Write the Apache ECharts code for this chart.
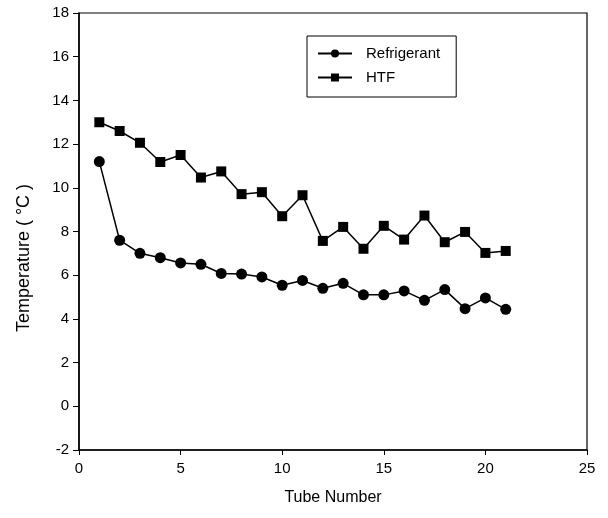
<!DOCTYPE html>
<html>
<head>
<meta charset="utf-8">
<script src="https://cdn.jsdelivr.net/npm/echarts@6/dist/echarts.min.js"></script>
<style>html,body{margin:0;padding:0;background:#fff;}#c{width:608px;height:518px;}</style>
</head>
<body>
<div id="c"></div>
<script>
const tubes = [1,2,3,4,5,6,7,8,9,10,11,12,13,14,15,16,17,18,19,20,21];
const refrigerant = [11.2,7.6,7.0,6.8,6.56,6.5,6.08,6.05,5.92,5.54,5.76,5.4,5.63,5.1,5.1,5.28,4.85,5.34,4.47,4.96,4.44];
const htf = [13.0,12.6,12.06,11.18,11.5,10.47,10.75,9.71,9.8,8.7,9.66,7.57,8.21,7.21,8.26,7.63,8.73,7.51,7.98,7.02,7.11];
const seriesNames = ['Refrigerant','HTF'];
const xTitle = 'Tube Number';
const yTitle = 'Temperature ( °C )';

const font = 'Liberation Sans, Arial, sans-serif';
const chart = echarts.init(document.getElementById('c'), null, {renderer:'canvas'});
const pair = (ys) => tubes.map((x,i)=>[x, ys[i]]);
chart.setOption({
  backgroundColor:'#fff',
  animation:false,
  textStyle:{fontFamily:font, color:'#000'},
  grid:{left:79, right:21, top:13, bottom:68, show:true, borderColor:'#000', borderWidth:1.2, backgroundColor:'transparent'},
  legend:{
    orient:'vertical', left:307, top:36,
    data:seriesNames,
    itemWidth:34, itemHeight:10, itemGap:9,
    padding:[10,16,12,10],
    borderColor:'#000', borderWidth:1,
    textStyle:{fontFamily:font, fontSize:15, color:'#000', padding:[0,0,0,9]}
  },
  graphic:[{
    type:'text', x:15, y:258, rotation:Math.PI/2,
    style:{text:yTitle, fontFamily:font, fontSize:18, fill:'#000', align:'center', verticalAlign:'top'}
  }],
  xAxis:{
    type:'value', min:0, max:25, interval:5,
    name:xTitle, nameLocation:'middle', nameGap:40,
    nameTextStyle:{fontFamily:font, fontSize:16, color:'#000'},
    axisLine:{show:true, onZero:false, lineStyle:{color:'#000', width:1.5}},
    axisTick:{show:true, inside:false, length:5, lineStyle:{color:'#000'}},
    axisLabel:{fontFamily:font, fontSize:15, color:'#000', margin:11},
    splitLine:{show:false}
  },
  yAxis:{
    type:'value', min:-2, max:18, interval:2,
    axisLine:{show:true, onZero:false, lineStyle:{color:'#000', width:1.5}},
    axisTick:{show:true, inside:false, length:6, lineStyle:{color:'#000'}},
    axisLabel:{fontFamily:font, fontSize:15, color:'#000', margin:10},
    splitLine:{show:false}
  },
  series:[
    {name:seriesNames[0], type:'line', data:pair(refrigerant), symbol:'circle', symbolSize:11,
     itemStyle:{color:'#000'}, lineStyle:{color:'#000', width:1.5}},
    {name:seriesNames[1], type:'line', data:pair(htf), symbol:'rect', symbolSize:10,
     itemStyle:{color:'#000'}, lineStyle:{color:'#000', width:1.5}}
  ]
});
</script>
</body>
</html>
